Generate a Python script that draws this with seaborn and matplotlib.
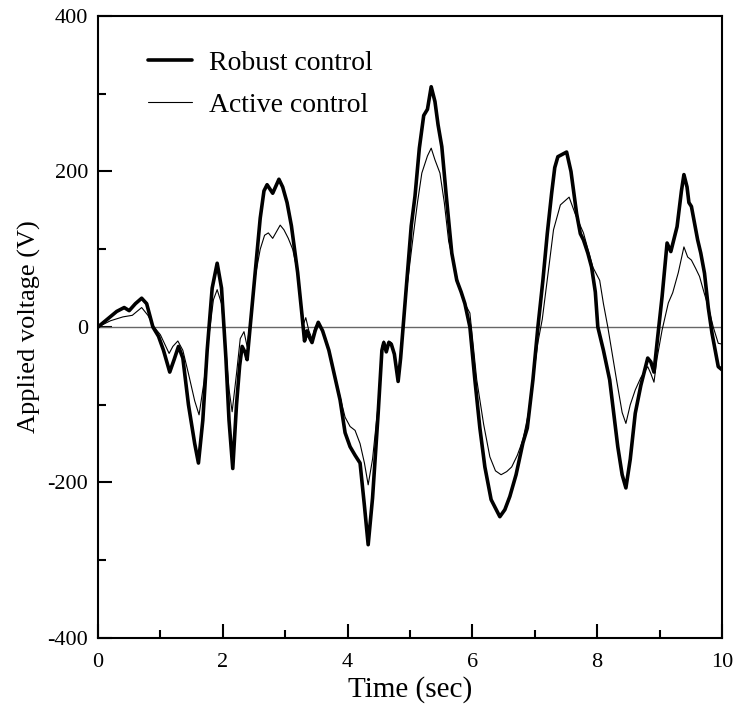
import numpy as np
import pandas as pd
import matplotlib
matplotlib.use("Agg")
import matplotlib.pyplot as plt
import seaborn as sns
from matplotlib.ticker import MultipleLocator

# ---- data ----
robust_t = [0.0, 0.15, 0.3, 0.42, 0.5, 0.6, 0.7, 0.78, 0.88, 0.97, 1.05, 1.15, 1.22, 1.29, 1.36, 1.45, 1.55, 1.61,
            1.68, 1.75, 1.83, 1.91, 1.98, 2.05, 2.10, 2.16, 2.22, 2.27, 2.31, 2.36, 2.39, 2.45, 2.52, 2.6, 2.66,
            2.71, 2.80, 2.90, 2.96, 3.03, 3.1, 3.2, 3.27, 3.31, 3.35, 3.38, 3.43, 3.48, 3.53, 3.6, 3.7, 3.77,
            3.88, 3.96, 4.04, 4.12, 4.2, 4.27, 4.33, 4.4, 4.49, 4.55, 4.58, 4.62, 4.66, 4.70, 4.75, 4.81, 4.85,
            4.89, 4.95, 5.02, 5.08, 5.15, 5.22, 5.28, 5.34, 5.4, 5.45, 5.51, 5.58, 5.67, 5.75, 5.82, 5.88, 5.96,
            6.04, 6.12, 6.2, 6.3, 6.44, 6.52, 6.6, 6.7, 6.81, 6.88, 6.97, 7.05, 7.13, 7.2, 7.27, 7.32, 7.37, 7.44,
            7.51, 7.58, 7.67, 7.73, 7.78, 7.85, 7.91, 7.97, 8.01, 8.1, 8.2, 8.33, 8.4, 8.46, 8.53, 8.61, 8.7, 8.81,
            8.86, 8.91, 8.96, 9.04, 9.12, 9.18, 9.28, 9.35, 9.39, 9.44, 9.47, 9.51, 9.61, 9.66, 9.72, 9.78, 9.84,
            9.94, 10.0]
robust_v = [0, 10, 20, 25, 21, 30, 37, 30, 0, -12, -30, -58, -42, -25, -40, -100, -150, -175,
            -120, -30, 50, 82, 50, -40, -120, -182, -100, -50, -25, -33, -42, 10, 70, 140, 175,
            183, 172, 190, 180, 160, 130, 70, 15, -18, -5, -12, -20, -5, 6, -5, -30, -55,
            -94, -136, -154, -165, -175, -230, -280, -220, -111, -30, -20, -32, -20, -22, -35, -70, -40,
            0, 60, 130, 168, 230, 272, 280, 309, 290, 260, 232, 170, 95, 60, 45, 30, 0,
            -68, -130, -180, -222, -244, -235, -218, -190, -149, -130, -68, 0, 60, 120, 172, 205, 219, 222,
            225, 200, 146, 120, 112, 95, 77, 45, 0, -30, -68, -154, -190, -207, -170, -111, -75, -40,
            -45, -58, -20, 39, 108, 97, 129, 175, 196, 180, 160, 155, 112, 95, 69, 25, -8,
            -51, -55]

active_t = [0.0, 0.2, 0.4, 0.55, 0.7, 0.8, 0.9, 1.0, 1.14, 1.2, 1.28, 1.36, 1.45, 1.55, 1.62, 1.7, 1.78, 1.85,
            1.91, 1.98, 2.05, 2.1, 2.15, 2.22, 2.28, 2.34, 2.39, 2.45, 2.52, 2.6, 2.67, 2.73, 2.8, 2.92, 2.98,
            3.05, 3.12, 3.2, 3.27, 3.3, 3.33, 3.38, 3.43, 3.48, 3.53, 3.6, 3.7, 3.77, 3.88, 3.96, 4.04, 4.12,
            4.2, 4.27, 4.33, 4.4, 4.49, 4.55, 4.58, 4.62, 4.66, 4.70, 4.75, 4.81, 4.85, 4.89, 4.95, 5.05, 5.12,
            5.19, 5.28, 5.34, 5.4, 5.48, 5.55, 5.62, 5.72, 5.8, 5.88, 5.96, 6.07, 6.18, 6.28, 6.37, 6.46, 6.55,
            6.63, 6.72, 6.81, 6.9, 6.97, 7.05, 7.12, 7.23, 7.3, 7.41, 7.55, 7.65, 7.78, 7.93, 8.04, 8.1, 8.17,
            8.31, 8.4, 8.46, 8.53, 8.61, 8.7, 8.81, 8.86, 8.91, 8.96, 9.04, 9.14, 9.21, 9.3, 9.39, 9.45, 9.51,
            9.58, 9.64, 9.71, 9.78, 9.86, 9.94, 10.0]
active_v = [0, 8, 13, 15, 25, 15, 0, -10, -34, -25, -18, -30, -60, -95, -113, -70, -10, 35,
            48, 30, -30, -80, -109, -60, -15, -6, -25, 15, 65, 100, 118, 121, 114, 131, 125,
            114, 100, 70, 20, 5, 12, -5, -15, 0, 5, -5, -30, -55, -90, -116, -128, -133,
            -150, -175, -203, -170, -100, -25, -18, -28, -18, -20, -33, -65, -35, 0, 50, 116, 160,
            198, 220, 230, 215, 198, 160, 110, 73, 50, 30, 18, -68, -125, -167, -185, -190, -186,
            -180, -165, -145, -110, -68, -20, 10, 80, 125, 157, 167, 145, 121, 77, 60, 30, 0,
            -68, -110, -124, -100, -81, -65, -51, -60, -71, -40, -4, 31, 44, 70, 103, 90, 86,
            75, 65, 45, 26, 0, -21, -22]

series_names = ["Robust control", "Active control"]
x_ticks = [0, 2, 4, 6, 8, 10]
y_ticks = [-400, -200, 0, 200, 400]

# ---- plotting ----
sns.set_theme(style="white")
plt.rcParams['font.family'] = ['Liberation Serif', 'DejaVu Serif']
plt.rcParams['axes.unicode_minus'] = False
plt.rcParams['text.color'] = 'black'
plt.rcParams['axes.labelcolor'] = 'black'
plt.rcParams['xtick.color'] = 'black'
plt.rcParams['ytick.color'] = 'black'

fig = plt.figure(figsize=(7.35, 7.07), dpi=100)
ax = fig.add_axes([0.1333, 0.0976, 0.8490, 0.8798])

ax.axhline(0, color="#666666", lw=1.0, zorder=1)

df_r = pd.DataFrame({"t": robust_t, "v": robust_v})
df_a = pd.DataFrame({"t": active_t, "v": active_v})
sns.lineplot(data=df_r, x="t", y="v", ax=ax, color="black", lw=2.6, sort=False,
             estimator=None, label=series_names[0], zorder=3)
sns.lineplot(data=df_a, x="t", y="v", ax=ax, color="black", lw=0.8, sort=False,
             estimator=None, label=series_names[1], zorder=2)

ax.set_xlim(0, 10)
ax.set_ylim(-400, 400)
ax.set_xticks(x_ticks)
ax.set_yticks(y_ticks)
ax.xaxis.set_minor_locator(MultipleLocator(1))
ax.yaxis.set_minor_locator(MultipleLocator(100))
ax.tick_params(which="both", direction="in", bottom=True, left=True, top=False, right=False,
               colors="black", labelsize=16, width=1.5)
ax.tick_params(which="major", length=10)
ax.tick_params(axis="x", which="major", pad=11)
ax.tick_params(axis="y", which="major", pad=7)
ax.tick_params(which="minor", length=6)
for s in ax.spines.values():
    s.set_color("black")
    s.set_linewidth(1.5)

ax.set_xlabel("Time (sec)", fontsize=21, labelpad=3, color="black")
ax.set_ylabel("Applied voltage (V)", fontsize=19, labelpad=5, color="black")

leg = ax.legend(loc="upper left", bbox_to_anchor=(0.04, 0.985), frameon=False,
                fontsize=20, handlelength=1.6, handletextpad=0.6, labelspacing=0.6)
for txt in leg.get_texts():
    txt.set_color("black")

fig.savefig("out.png", dpi=100)
